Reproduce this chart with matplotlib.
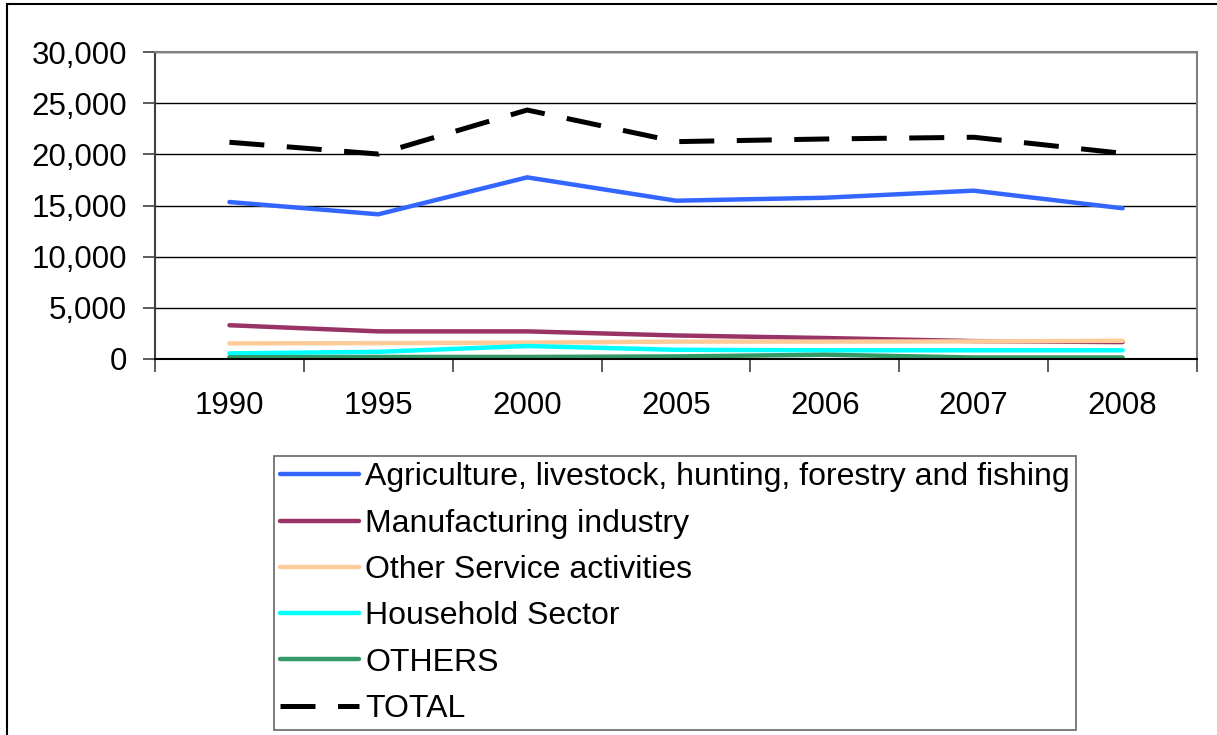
"""
Employment by sector, 1990-2008: line chart with a boxed legend below.
"""

import matplotlib
matplotlib.use('Agg')
import matplotlib.pyplot as plt
from matplotlib.patches import Rectangle
from matplotlib.ticker import FuncFormatter, FixedLocator

plt.rcParams['font.family'] = ['Liberation Sans', 'DejaVu Sans']

# Data
years = ['1990', '1995', '2000', '2005', '2006', '2007', '2008']
agriculture = [15340, 14140, 17750, 15470, 15760, 16450, 14730]
manufacturing = [3300, 2700, 2700, 2300, 2050, 1750, 1650]
other_services = [1530, 1550, 1600, 1700, 1700, 1720, 1780]
household = [550, 700, 1270, 900, 850, 850, 850]
others = [170, 200, 200, 250, 420, 150, 150]
total = [21180, 20030, 24330, 21240, 21500, 21670, 20100]

series = [
    ('Agriculture, livestock, hunting, forestry and fishing', agriculture, '#3366FF'),
    ('Manufacturing industry', manufacturing, '#993366'),
    ('Other Service activities', other_services, '#FFCC99'),
    ('Household Sector', household, '#00FFFF'),
    ('OTHERS', others, '#339966'),
]

W, H = 1217, 735
fig = plt.figure(figsize=(W / 100, H / 100), dpi=100)
fig.patch.set_facecolor('white')

# outer frame (runs off the right and bottom edges)
fig.patches.append(Rectangle((7 / W, -0.05), 1.2, 1 - 4 / H + 0.05,
                             transform=fig.transFigure, fill=False,
                             edgecolor='black', linewidth=1.5, zorder=0))

ax = fig.add_axes([155 / W, 1 - 359 / H, (1197 - 155) / W, (359 - 52) / H])
x = list(range(len(years)))

for label, vals, color in series:
    ax.plot(x, vals, color=color, linewidth=3.2, label=label,
            solid_capstyle='round', solid_joinstyle='round')
ax.plot(x, total, color='black', linewidth=3.6, dashes=(7, 4.5), label='TOTAL',
        dash_capstyle='butt')

ax.set_xlim(-0.5, len(years) - 0.5)
ax.set_ylim(0, 30000)

# category labels centred, tick marks on the boundaries
ax.set_xticks(x)
ax.set_xticklabels(years, fontsize=22.5)
ax.tick_params(axis='x', which='major', length=0, pad=23)
ax.xaxis.set_minor_locator(FixedLocator([i - 0.5 for i in range(len(years) + 1)]))
ax.tick_params(axis='x', which='minor', length=9, width=1.2, color='#404040')

ax.set_yticks(range(0, 30001, 5000))
ax.yaxis.set_major_formatter(FuncFormatter(lambda v, p: f'{int(v):,}'))
ax.tick_params(axis='y', length=9, width=1.2, color='#404040', labelsize=22.5, pad=11)

ax.grid(axis='y', color='black', linewidth=1.0)
ax.set_axisbelow(True)

ax.spines['left'].set_color('#404040')
ax.spines['left'].set_linewidth(1.5)
ax.spines['bottom'].set_color('black')
ax.spines['bottom'].set_linewidth(1.5)
ax.spines['top'].set_color('#808080')
ax.spines['top'].set_linewidth(1.5)
ax.spines['right'].set_color('#808080')
ax.spines['right'].set_linewidth(1.5)

leg = fig.legend(loc='upper left', bbox_to_anchor=(274 / W, 1 - 456 / H),
                 fontsize=23, frameon=True, fancybox=False, handlelength=2.45,
                 handletextpad=0.2, labelspacing=0.51, borderpad=0.2,
                 borderaxespad=0, edgecolor='#404040')
leg.get_frame().set_linewidth(1.2)

fig.savefig('out.png', dpi=100, facecolor='white')
